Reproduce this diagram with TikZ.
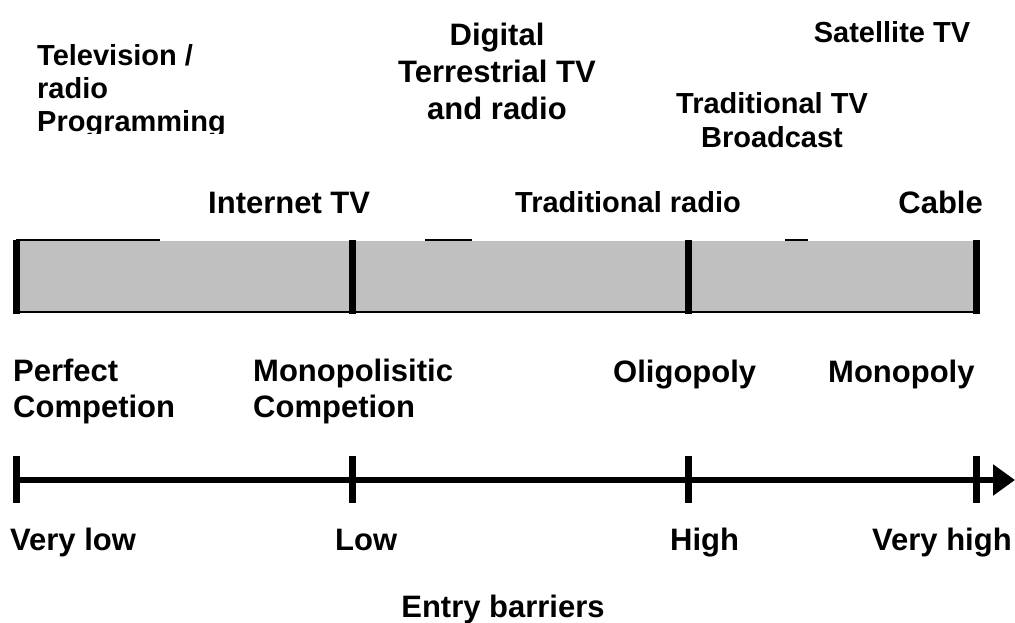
\documentclass[tikz,border=0pt]{standalone}
\usepackage{fontspec}
\setmainfont{Liberation Sans}
\usetikzlibrary{arrows.meta}
\definecolor{barfill}{RGB}{192,192,192}
\tikzset{
  lbl/.style={inner sep=0pt, font=\bfseries\fontsize{31}{36}\selectfont},
  lblsm/.style={inner sep=0pt, font=\bfseries\fontsize{29}{33}\selectfont},
}
\begin{document}
\begin{tikzpicture}[x=1pt,y=-1pt]
\useasboundingbox (0,0) rectangle (1015,623);
\fill[barfill] (16,241) rectangle (976,311);
\draw[line width=2pt] (13,312) -- (980,312);
\foreach \xa/\xb in {16/160,425/472,785/808} {\draw[line width=2pt] (\xa,240) -- (\xb,240);}
\foreach \xx in {16.5,352.5,688.5,976.5} {\draw[line width=7pt] (\xx,240) -- (\xx,313.5);}
\coordinate (axstart) at (13,480);
\coordinate (axend) at (1015,480);
\draw[line width=6pt,-{Triangle[length=22pt,width=30pt]}] (axstart) -- (axend);
\foreach \xx in {16.5,352.5,688.5,976.5} {\draw[line width=7pt] (\xx,456) -- (\xx,503);}
\begin{scope}
\clip (0,0) rectangle (400,134);
\node[lblsm,anchor=north west,align=left] (tvprog) at (37,44) {Television /\\radio\\Programming};
\end{scope}
\node[lbl,font=\bfseries\fontsize{31}{37}\selectfont,anchor=north,align=center] (dtt) at (497,22.5) {Digital\\Terrestrial TV\\and radio};
\node[lblsm,anchor=base] (sat) at (892,43) {Satellite TV};
\node[lblsm,font=\bfseries\fontsize{29}{34}\selectfont,anchor=north,align=center] (tradtv) at (772,92) {Traditional TV\\Broadcast};
\node[lbl,anchor=base west] (inettv) at (208,213) {Internet TV};
\node[lblsm,anchor=base west] (tradradio) at (515,212) {Traditional radio};
\node[lbl,anchor=base east] (cable) at (983,213) {Cable};
\node[lbl,anchor=north west,align=left] (perfect) at (13,359) {Perfect\\Competion};
\node[lbl,anchor=north west,align=left] (monopolis) at (253,359) {Monopolisitic\\Competion};
\node[lbl,anchor=base west] (oligo) at (613,382) {Oligopoly};
\node[lbl,anchor=base west] (mono) at (828,382) {Monopoly};
\node[lbl,anchor=base west] (vlow) at (10,550) {Very low};
\node[lbl,anchor=base west] (low) at (335,550) {Low};
\node[lbl,anchor=base west] (high) at (670,550) {High};
\node[lbl,anchor=base west] (vhigh) at (872,550) {Very high};
\node[lbl,anchor=base] (entry) at (503,617) {Entry barriers};
\end{tikzpicture}
\end{document}
